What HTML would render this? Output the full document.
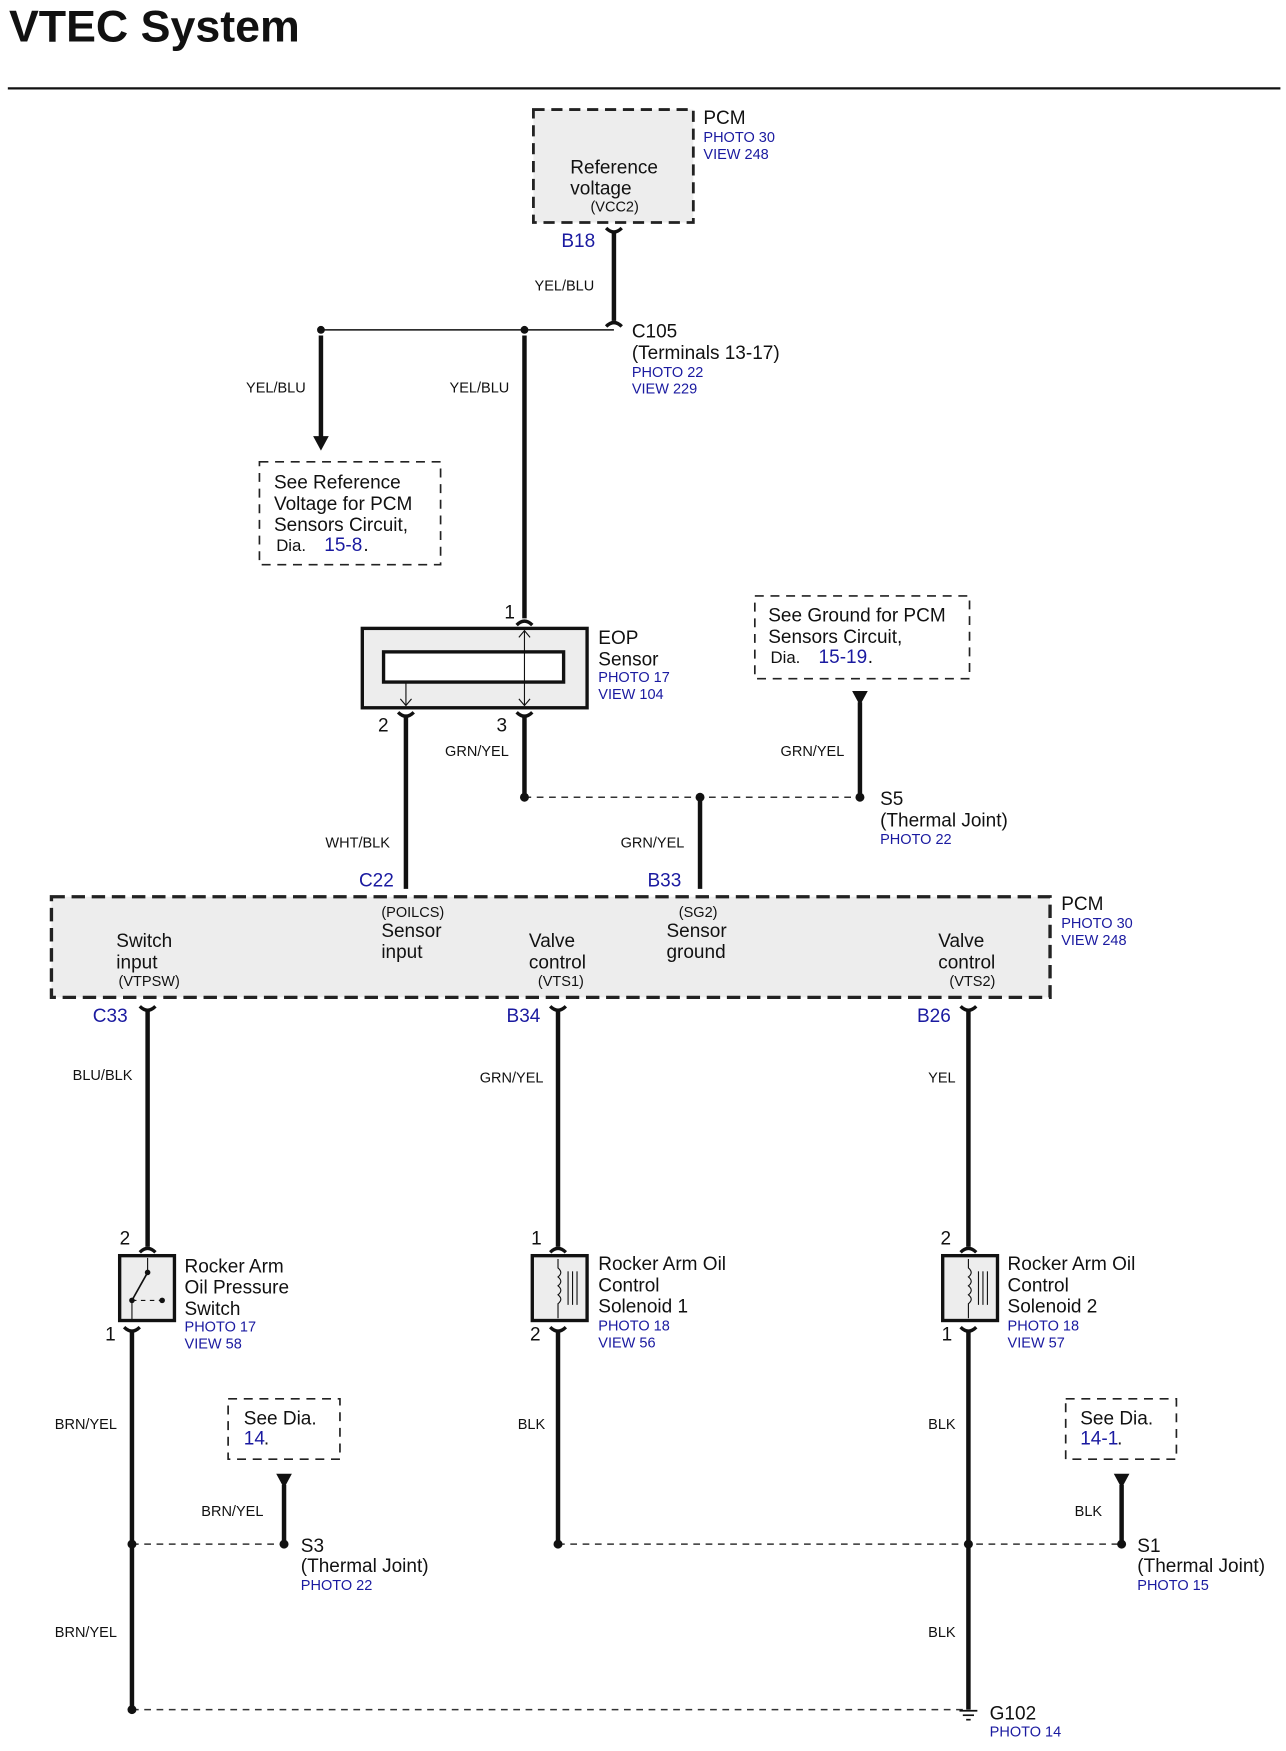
<!DOCTYPE html>
<html><head><meta charset="utf-8"><style>
html,body{margin:0;padding:0;background:#fff;}
svg{display:block;}
text{font-family:"Liberation Sans",Arial,sans-serif;fill:#111;}
.t{font-size:17px;}
.s{font-size:13px;}
.b{fill:#1a1aa0;font-size:13px;}
.bl{fill:#1a1aa0;font-size:17px;}
.w{stroke:#111;stroke-width:4;fill:none;}
.d{stroke:#333;stroke-width:1.3;stroke-dasharray:6 5;fill:none;}
.bx{stroke:#222;stroke-width:1.5;stroke-dasharray:8 6;fill:#fff;}
</style></head><body>
<svg width="1286" height="1751" viewBox="0 0 1150 1566" preserveAspectRatio="none" xmlns="http://www.w3.org/2000/svg">
<defs>
<g id="cd"><path d="M-7,-6 Q0,1 7,-6" stroke="#111" stroke-width="3" fill="none"/></g>
<g id="cu"><path d="M-7,6 Q0,-1 7,6" stroke="#111" stroke-width="3" fill="none"/></g>
</defs>
<text x="8" y="37" style="font-size:40px;font-weight:bold">VTEC System</text>
<line x1="7" y1="79" x2="1145" y2="79" stroke="#111" stroke-width="2"/>

<text class="t" x="510" y="155">Reference</text>
<rect x="477" y="98" width="143" height="101" fill="#ededed" stroke="#222" stroke-width="2.5" stroke-dasharray="10 6"/>
<text class="t" x="510" y="155">Reference</text>
<text class="t" x="510" y="174">voltage</text>
<text class="s" x="528" y="189">(VCC2)</text>
<text class="t" x="629" y="111">PCM</text>
<text class="b" x="629" y="127">PHOTO 30</text>
<text class="b" x="629" y="142">VIEW 248</text>
<text class="bl" x="502" y="221">B18</text>
<line class="w" x1="549" y1="208" x2="549" y2="287"/>
<use href="#cd" x="549" y="210"/>
<use href="#cu" x="549" y="286"/>
<text class="s" x="478" y="260">YEL/BLU</text>
<line x1="287" y1="295" x2="549" y2="295" stroke="#111" stroke-width="1.3"/>
<circle cx="287" cy="295" r="3.5" fill="#111"/><circle cx="469" cy="295" r="3.5" fill="#111"/>
<text class="t" x="565" y="302">C105</text>
<text class="t" x="565" y="321">(Terminals 13-17)</text>
<text class="b" x="565" y="337">PHOTO 22</text>
<text class="b" x="565" y="352">VIEW 229</text>
<line class="w" x1="287" y1="300" x2="287" y2="392"/>
<polygon points="280,390 294,390 287,403" fill="#111"/>
<text class="s" x="220" y="351">YEL/BLU</text>
<line class="w" x1="469" y1="300" x2="469" y2="553"/>
<text class="s" x="402" y="351">YEL/BLU</text>
<rect class="bx" x="232" y="413" width="162" height="92"/>
<text class="t" x="245" y="437">See Reference</text>
<text class="t" x="245" y="456">Voltage for PCM</text>
<text class="t" x="245" y="475">Sensors Circuit,</text>
<text x="247" y="493" style="font-size:15px">Dia.</text><text class="bl" x="290" y="493">15-8</text><text class="t" x="325" y="493">.</text>

<text class="t" x="451" y="553">1</text>
<use href="#cu" x="469" y="553"/>
<rect x="324" y="562" width="201" height="71" fill="#ededed" stroke="#111" stroke-width="3"/>
<rect x="343" y="583" width="161" height="27" fill="#fff" stroke="#111" stroke-width="3"/>
<line x1="469" y1="564" x2="469" y2="631" stroke="#111" stroke-width="1"/>
<path d="M464,570 L469,564 L474,570 M464,625 L469,631 L474,625 M358,625 L363,631 L368,625" stroke="#111" fill="none"/>
<line x1="363" y1="610" x2="363" y2="631" stroke="#111" stroke-width="1"/>
<text class="t" x="535" y="576">EOP</text>
<text class="t" x="535" y="595">Sensor</text>
<text class="b" x="535" y="610">PHOTO 17</text>
<text class="b" x="535" y="625">VIEW 104</text>
<text class="t" x="338" y="654">2</text>
<text class="t" x="444" y="654">3</text>
<use href="#cd" x="363" y="643"/><use href="#cd" x="469" y="643"/>
<line class="w" x1="363" y1="640" x2="363" y2="795"/>
<line class="w" x1="469" y1="640" x2="469" y2="713"/>
<text class="s" x="398" y="676">GRN/YEL</text>
<text class="s" x="291" y="758">WHT/BLK</text>
<line class="d" x1="469" y1="713" x2="769" y2="713"/>
<circle cx="469" cy="713" r="4" fill="#111"/><circle cx="626" cy="713" r="4" fill="#111"/><circle cx="769" cy="713" r="4" fill="#111"/>
<line class="w" x1="626" y1="713" x2="626" y2="795"/>
<text class="s" x="555" y="758">GRN/YEL</text>
<rect class="bx" x="675" y="533" width="192" height="74"/>
<text class="t" x="687" y="556">See Ground for PCM</text>
<text class="t" x="687" y="575">Sensors Circuit,</text>
<text x="689" y="593" style="font-size:15px">Dia.</text><text class="bl" x="732" y="593">15-19</text><text class="t" x="776" y="593">.</text>
<polygon points="762,618 776,618 769,631" fill="#111"/>
<line class="w" x1="769" y1="628" x2="769" y2="713"/>
<text class="s" x="698" y="676">GRN/YEL</text>
<text class="t" x="787" y="720">S5</text>
<text class="t" x="787" y="739">(Thermal Joint)</text>
<text class="b" x="787" y="755">PHOTO 22</text>
<text class="bl" x="321" y="793">C22</text>
<text class="bl" x="579" y="793">B33</text>

<rect x="46" y="802" width="893" height="90" fill="#ededed" stroke="#222" stroke-width="3" stroke-dasharray="12 6"/>
<text class="t" x="104" y="847">Switch</text>
<text class="t" x="104" y="866">input</text>
<text class="s" x="106" y="882">(VTPSW)</text>
<text class="s" x="341" y="820">(POILCS)</text>
<text class="t" x="341" y="838">Sensor</text>
<text class="t" x="341" y="857">input</text>
<text class="t" x="473" y="847">Valve</text>
<text class="t" x="473" y="866">control</text>
<text class="s" x="481" y="882">(VTS1)</text>
<text class="s" x="607" y="820">(SG2)</text>
<text class="t" x="596" y="838">Sensor</text>
<text class="t" x="596" y="857">ground</text>
<text class="t" x="839" y="847">Valve</text>
<text class="t" x="839" y="866">control</text>
<text class="s" x="849" y="882">(VTS2)</text>
<text class="t" x="949" y="814">PCM</text>
<text class="b" x="949" y="830">PHOTO 30</text>
<text class="b" x="949" y="845">VIEW 248</text>
<text class="bl" x="83" y="914">C33</text>
<text class="bl" x="453" y="914">B34</text>
<text class="bl" x="820" y="914">B26</text>
<use href="#cd" x="132" y="906"/><use href="#cd" x="499" y="906"/><use href="#cd" x="866" y="906"/>
<line class="w" x1="132" y1="903" x2="132" y2="1115"/>
<line class="w" x1="499" y1="903" x2="499" y2="1115"/>
<line class="w" x1="866" y1="903" x2="866" y2="1115"/>
<text class="s" x="65" y="966">BLU/BLK</text>
<text class="s" x="429" y="968">GRN/YEL</text>
<text class="s" x="830" y="968">YEL</text>
<text class="t" x="107" y="1113">2</text>
<text class="t" x="475" y="1113">1</text>
<text class="t" x="841" y="1113">2</text>
<use href="#cu" x="132" y="1114"/><use href="#cu" x="499" y="1114"/><use href="#cu" x="866" y="1114"/>

<rect x="107" y="1123" width="49" height="58" fill="#ededed" stroke="#111" stroke-width="3"/>
<line x1="132" y1="1125" x2="132" y2="1138" stroke="#111"/>
<line x1="118" y1="1163" x2="118" y2="1180" stroke="#111"/>
<line x1="132" y1="1138" x2="118" y2="1163" stroke="#111" stroke-width="1.5"/>
<line x1="118" y1="1163" x2="145" y2="1163" stroke="#111" stroke-dasharray="4 4"/>
<circle cx="132" cy="1138" r="2.5" fill="#111"/><circle cx="118" cy="1163" r="2.5" fill="#111"/><circle cx="145" cy="1163" r="2.5" fill="#111"/>
<text class="t" x="165" y="1138">Rocker Arm</text>
<text class="t" x="165" y="1157">Oil Pressure</text>
<text class="t" x="165" y="1176">Switch</text>
<text class="b" x="165" y="1191">PHOTO 17</text>
<text class="b" x="165" y="1206">VIEW 58</text>
<text class="t" x="94" y="1199">1</text>
<use href="#cd" x="118" y="1193"/>
<line class="w" x1="118" y1="1190" x2="118" y2="1529"/>

<g id="sol1">
<rect x="476" y="1123" width="49" height="58" fill="#ededed" stroke="#111" stroke-width="3"/>
<path d="M499,1126 v8 q5,4 0,8 q5,4 0,8 q5,4 0,8 q5,4 0,8 v13" stroke="#111" fill="none"/>
<line x1="508" y1="1137" x2="508" y2="1167" stroke="#111"/><line x1="512" y1="1137" x2="512" y2="1167" stroke="#111"/><line x1="516" y1="1137" x2="516" y2="1167" stroke="#111"/>
</g>
<use href="#sol1" x="367" y="0"/>
<text class="t" x="535" y="1136">Rocker Arm Oil</text>
<text class="t" x="535" y="1155">Control</text>
<text class="t" x="535" y="1174">Solenoid 1</text>
<text class="b" x="535" y="1190">PHOTO 18</text>
<text class="b" x="535" y="1205">VIEW 56</text>
<text class="t" x="901" y="1136">Rocker Arm Oil</text>
<text class="t" x="901" y="1155">Control</text>
<text class="t" x="901" y="1174">Solenoid 2</text>
<text class="b" x="901" y="1190">PHOTO 18</text>
<text class="b" x="901" y="1205">VIEW 57</text>
<text class="t" x="474" y="1199">2</text>
<text class="t" x="842" y="1199">1</text>
<use href="#cd" x="499" y="1193"/><use href="#cd" x="866" y="1193"/>
<line class="w" x1="499" y1="1190" x2="499" y2="1381"/>
<line class="w" x1="866" y1="1190" x2="866" y2="1529"/>
<text class="s" x="49" y="1278">BRN/YEL</text>
<text class="s" x="463" y="1278">BLK</text>
<text class="s" x="830" y="1278">BLK</text>

<rect class="bx" x="204" y="1251" width="100" height="54"/>
<text class="t" x="218" y="1274">See Dia.</text>
<text class="bl" x="218" y="1292">14</text><text class="t" x="236" y="1292">.</text>
<polygon points="247,1318 261,1318 254,1331" fill="#111"/>
<line class="w" x1="254" y1="1328" x2="254" y2="1381"/>
<text class="s" x="180" y="1356">BRN/YEL</text>
<line class="d" x1="118" y1="1381" x2="254" y2="1381"/>
<circle cx="118" cy="1381" r="4" fill="#111"/><circle cx="254" cy="1381" r="4" fill="#111"/>
<text class="t" x="269" y="1388">S3</text>
<text class="t" x="269" y="1406">(Thermal Joint)</text>
<text class="b" x="269" y="1422">PHOTO 22</text>

<rect class="bx" x="953" y="1251" width="99" height="54"/>
<text class="t" x="966" y="1274">See Dia.</text>
<text class="bl" x="966" y="1292">14-1</text><text class="t" x="999" y="1292">.</text>
<polygon points="996,1318 1010,1318 1003,1331" fill="#111"/>
<line class="w" x1="1003" y1="1328" x2="1003" y2="1381"/>
<text class="s" x="961" y="1356">BLK</text>
<line class="d" x1="499" y1="1381" x2="1003" y2="1381"/>
<circle cx="499" cy="1381" r="4" fill="#111"/><circle cx="866" cy="1381" r="4" fill="#111"/><circle cx="1003" cy="1381" r="4" fill="#111"/>
<text class="t" x="1017" y="1388">S1</text>
<text class="t" x="1017" y="1406">(Thermal Joint)</text>
<text class="b" x="1017" y="1422">PHOTO 15</text>

<text class="s" x="49" y="1464">BRN/YEL</text>
<text class="s" x="830" y="1464">BLK</text>
<line class="d" x1="118" y1="1529" x2="866" y2="1529"/>
<circle cx="118" cy="1529" r="4" fill="#111"/>
<line x1="858" y1="1530" x2="874" y2="1530" stroke="#111" stroke-width="1.5"/>
<line x1="861" y1="1534" x2="871" y2="1534" stroke="#111" stroke-width="1.5"/>
<line x1="864" y1="1538" x2="868" y2="1538" stroke="#111" stroke-width="1.5"/>
<text class="t" x="885" y="1538">G102</text>
<text class="b" x="885" y="1553">PHOTO 14</text>
</svg>
</body></html>
